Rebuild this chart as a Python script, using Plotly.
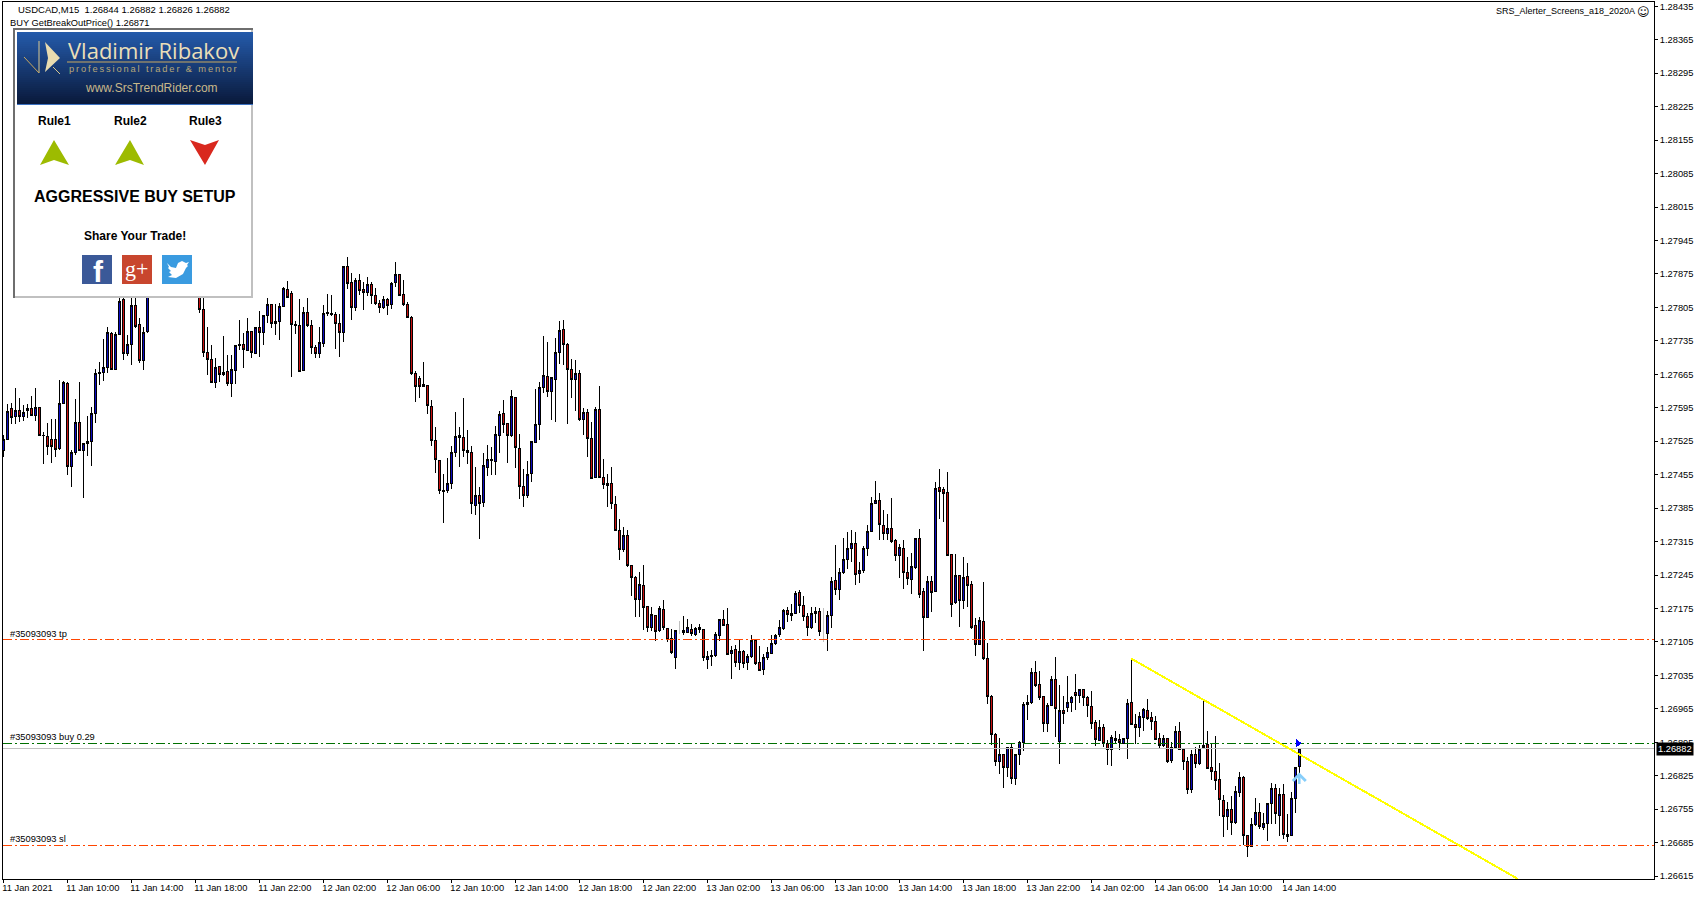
import plotly.graph_objects as go

# M15 USDCAD bars, prices in points (1e-5). None = bar hidden behind the panel
opens = [
    127505,127529,127594,127577,127590,127577,127590,127594,127579,127596,
    127537,127535,127529,127529,127510,127604,127646,127472,127502,127565,
    127505,127520,127525,127583,127666,127669,127680,127751,127676,127748,
    127821,127708,127727,127809,127770,127694,127754,None,None,None,
    None,None,None,None,None,None,None,None,None,127848,
    127801,127711,127696,127648,127682,127669,127671,127646,127673,127725,
    127728,127715,127755,127709,127763,127753,127788,127812,127771,127775,
    127807,127843,127835,127770,127768,127673,127795,127768,127722,127708,
    127729,127792,127791,127791,127772,127752,127891,127858,127805,127862,
    127843,127836,127853,127830,127814,127805,127822,127811,127857,127874,
    127832,127812,127784,127667,127657,127640,127641,127598,127526,127485,
    127422,127421,127436,127501,127537,127533,127506,127501,127390,127411,
    127396,127471,127484,127482,127536,127583,127562,127536,127616,127510,
    127430,127411,127457,127523,127559,127637,127660,127628,127655,127710,
    127759,127727,127675,127655,127667,127570,127585,127531,127450,127591,
    127449,127432,127436,127393,127338,127298,127328,127265,127240,127193,
    127223,127179,127136,127160,127128,127173,127133,127112,127072,None,
    127124,127124,127131,127121,127132,127131,127068,127074,127076,127119,
    127152,127142,127080,127089,127063,127085,127061,127075,127108,127062,
    127047,127072,127081,127101,127120,127134,127171,127160,127165,127208,
    127181,127158,127136,127164,127169,None,127123,127160,127233,127214,
    127251,127278,127301,127312,127248,127255,127301,127337,127395,127400,
    127349,127331,127343,127318,127285,127301,127251,127236,127261,127322,
    127211,127156,127232,127211,127429,127423,127418,127289,127188,127243,
    127192,127241,127226,127140,127100,127147,127071,126990,126912,126855,
    126870,126842,126885,126819,126870,126895,126974,126978,127041,127015,
    126990,126935,126972,127027,126897,126961,126967,126978,126999,126993,
    127006,126988,126970,126937,126899,126927,126893,126880,126904,126900,
    126893,126902,126979,126933,126926,126947,126962,126946,126939,126902,
    126889,126904,126857,126885,126918,126879,126854,126796,126870,126851,
    126884,126891,126843,126833,126818,126774,126740,126755,126727,126791,
    126822,126700,126678,126722,126748,126717,126725,126767,126799,126742,
    126786,126702,126700,126778,126844,
]
highs = [
    127538,127603,127606,127636,127615,127601,127603,127620,127636,127596,
    127545,127563,127571,127571,127653,127651,127649,127507,127613,127648,
    127521,127577,127596,127676,127690,127739,127763,127754,127753,127848,
    127831,127747,127831,127831,127782,127763,127862,None,None,None,
    None,None,None,None,None,None,None,None,None,127862,
    127835,127763,127726,127699,127683,127745,127706,127706,127726,127779,
    127752,127782,127756,127765,127798,127789,127824,127812,127812,127815,
    127847,127860,127839,127777,127822,127805,127824,127779,127726,127763,
    127810,127833,127831,127796,127791,127892,127910,127876,127866,127875,
    127859,127868,127859,127845,127821,127828,127824,127858,127899,127874,
    127862,127817,127786,127671,127662,127690,127642,127611,127554,127485,
    127456,127489,127515,127586,127554,127616,127548,127515,127471,127430,
    127501,127517,127513,127556,127588,127611,127562,127632,127616,127541,
    127466,127483,127524,127635,127648,127745,127732,127658,127741,127776,
    127778,127731,127698,127694,127674,127595,127593,127565,127596,127640,
    127487,127456,127471,127411,127362,127345,127339,127265,127244,127251,
    127265,127180,127178,127160,127180,127192,127135,127133,127131,None,
    127160,127152,127142,127137,127142,127131,127086,127088,127126,127152,
    127172,127177,127096,127098,127109,127088,127079,127119,127109,127096,
    127079,127095,127119,127121,127151,127173,127178,127184,127211,127213,
    127201,127165,127178,127178,127177,None,127169,127240,127307,127260,
    127323,127335,127340,127335,127273,127305,127350,127409,127442,127417,
    127381,127373,127407,127320,127310,127319,127282,127292,127322,127342,
    127218,127243,127243,127439,127467,127429,127461,127289,127289,127243,
    127283,127271,127233,127155,127157,127231,127103,126994,126914,126904,
    126870,126885,126893,126871,126897,126980,126994,127050,127066,127045,
    126992,126977,127034,127073,127015,126991,127034,126992,127038,127006,
    127006,126991,127002,126942,126942,126933,126900,126910,126919,126912,
    126905,126985,127070,126954,126958,126966,126986,126958,126951,126914,
    126911,126904,126895,126930,126938,126882,126864,126879,126886,126890,
    126983,126919,126893,126909,126852,126785,126771,126782,126803,126833,
    126825,126700,126737,126778,126767,126748,126769,126809,126808,126799,
    126808,126745,126790,126844,126882,
]
lows = [
    127493,127529,127561,127561,127566,127568,127573,127577,127568,127536,
    127477,127496,127480,127491,127507,127603,127454,127430,127496,127505,
    127407,127494,127473,127564,127643,127652,127667,127673,127676,127747,
    127695,127703,127685,127761,127688,127674,127751,None,None,None,
    None,None,None,None,None,None,None,None,None,127794,
    127701,127664,127648,127637,127648,127662,127641,127618,127645,127715,
    127679,127713,127699,127708,127702,127726,127773,127761,127747,127737,
    127805,127824,127660,127749,127670,127672,127763,127708,127699,127699,
    127722,127786,127787,127719,127702,127733,127843,127779,127798,127831,
    127800,127828,127812,127810,127794,127801,127789,127802,127847,127828,
    127808,127783,127664,127608,127615,127639,127582,127515,127459,127414,
    127354,127417,127426,127492,127471,127492,127478,127372,127370,127321,
    127388,127452,127454,127455,127501,127542,127480,127534,127469,127404,
    127388,127407,127440,127522,127527,127625,127618,127569,127565,127686,
    127684,127561,127616,127588,127568,127538,127492,127446,127449,127448,
    127425,127388,127383,127337,127276,127293,127262,127201,127158,127158,
    127130,127126,127128,127107,127125,127130,127105,127079,127049,None,
    127119,127124,127118,127117,127123,127066,127049,127054,127074,127107,
    127138,127077,127028,127053,127047,127050,127047,127072,127056,127045,
    127036,127067,127079,127099,127116,127130,127147,127149,127163,127166,
    127149,127117,127133,127144,127118,None,127086,127135,127204,127192,
    127248,127257,127273,127225,127229,127250,127285,127335,127395,127319,
    127319,127319,127313,127275,127239,127216,127225,127206,127258,127198,
    127087,127155,127167,127211,127363,127357,127284,127158,127184,127137,
    127174,127179,127133,127075,127100,127068,126976,126890,126846,126829,
    126799,126822,126808,126805,126848,126876,126942,126976,127010,126983,
    126916,126916,126971,126907,126849,126934,126958,126958,126963,126977,
    126971,126949,126923,126888,126898,126885,126848,126845,126891,126878,
    126892,126861,126931,126892,126907,126918,126942,126921,126899,126883,
    126886,126852,126852,126881,126879,126838,126787,126789,126841,126847,
    126883,126839,126817,126796,126740,126696,126712,126702,126725,126781,
    126680,126654,126677,126720,126713,126712,126689,126724,126725,126698,
    126693,126687,126699,126748,126826,
]
closes = [
    127529,127588,127574,127590,127577,127586,127594,127579,127596,127537,
    127536,127514,127514,127507,127604,127648,127472,127502,127565,127506,
    127521,127525,127583,127667,127669,127680,127753,127676,127749,127818,
    127708,127728,127810,127765,127694,127753,127848,None,None,None,
    None,None,None,None,None,None,None,None,None,127801,
    127710,127696,127648,127680,127665,127664,127646,127676,127726,127728,
    127716,127755,127710,127763,127753,127788,127812,127771,127776,127807,
    127845,127826,127769,127767,127671,127795,127767,127721,127708,127732,
    127793,127795,127793,127771,127752,127891,127855,127805,127862,127841,
    127836,127853,127830,127814,127805,127822,127808,127855,127874,127830,
    127812,127784,127666,127639,127639,127644,127599,127526,127486,127421,
    127419,127436,127501,127535,127532,127505,127501,127394,127411,127394,
    127474,127487,127487,127539,127581,127561,127538,127618,127511,127430,
    127411,127455,127524,127560,127637,127662,127628,127658,127711,127757,
    127727,127675,127655,127667,127570,127585,127530,127448,127591,127449,
    127434,127436,127394,127339,127298,127328,127264,127239,127193,127225,
    127178,127135,127162,127127,127175,127135,127111,127082,127129,None,
    127129,127135,127122,127133,127135,127072,127075,127077,127121,127152,
    127140,127079,127088,127063,127085,127060,127075,127109,127059,127046,
    127072,127083,127102,127119,127135,127170,127162,127165,127206,127181,
    127158,127135,127165,127169,127127,None,127160,127231,127214,127251,
    127278,127301,127312,127246,127255,127301,127337,127395,127400,127351,
    127332,127343,127315,127286,127303,127251,127238,127262,127322,127205,
    127156,127232,127209,127427,127420,127416,127285,127184,127245,127192,
    127239,127223,127135,127100,127149,127070,126990,126912,126855,126870,
    126842,126885,126819,126870,126895,126975,126979,127041,127013,126989,
    126935,126973,127027,126966,126962,126955,126979,126988,126993,127006,
    126988,126972,126935,126900,126925,126893,126880,126906,126899,126895,
    126902,126977,126932,126926,126948,126964,126945,126939,126901,126889,
    126904,126855,126885,126918,126880,126854,126796,126870,126851,126879,
    126889,126840,126833,126816,126776,126740,126755,126728,126793,126822,
    126700,126677,126723,126748,126719,126725,126768,126799,126746,126786,
    126702,126698,126778,126843,126882,
]

# flat bars that the terminal paints silver
doji_bars = [169, 205]
doji_open = [127128, 127126]
doji_high = [127148, 127176]
doji_low = [127121, 127105]
doji_close = [127128, 127126]

tick_bars = list(range(0, 321, 16))
tick_labels = ["11 Jan 2021", "11 Jan 10:00", "11 Jan 14:00", "11 Jan 18:00", "11 Jan 22:00",
               "12 Jan 02:00", "12 Jan 06:00", "12 Jan 10:00", "12 Jan 14:00", "12 Jan 18:00", "12 Jan 22:00",
               "13 Jan 02:00", "13 Jan 06:00", "13 Jan 10:00", "13 Jan 14:00", "13 Jan 18:00", "13 Jan 22:00",
               "14 Jan 02:00", "14 Jan 06:00", "14 Jan 10:00", "14 Jan 14:00"]
price_ticks = [128435 - 70 * k for k in range(27)]

tp_level = 127111
sl_level = 126680
buy_level = 126893
bid_level = 126882
trend_bars = [282, 378.7]
trend_prices = [127070, 126609]

PLOT_L, PLOT_R, PLOT_T, PLOT_B = 3, 1654, 2, 879
FONT = "Liberation Sans"


def p(v):
    return None if v is None else v / 100000


def px(x):
    return (x - PLOT_L) / (PLOT_R - PLOT_L)


def py(y):
    return (PLOT_B - y) / (PLOT_B - PLOT_T)


def rect(x0, y0, x1, y1, color):
    return dict(type="rect", xref="paper", yref="paper", x0=px(x0), x1=px(x1), y0=py(y1), y1=py(y0),
                fillcolor=color, line_width=0, layer="above")


def poly(points, color):
    path = "M" + "L".join(f"{px(a):.5f},{py(b):.5f}" for a, b in points) + "Z"
    return dict(type="path", xref="paper", yref="paper", path=path, fillcolor=color, line_width=0, layer="above")


def seg(x0, y0, x1, y1, color, width=1):
    return dict(type="line", xref="paper", yref="paper", x0=px(x0), x1=px(x1), y0=py(y0), y1=py(y1),
                line=dict(color=color, width=width), layer="above")


def label(x, y, text, size=9.3, color="black", anchor="left", bold=False, family=FONT):
    if bold:
        text = f"<b>{text}</b>"
    return dict(xref="paper", yref="paper", x=px(x), y=py(y), text=text, showarrow=False, xanchor=anchor,
                yanchor="middle", font=dict(family=family, size=size, color=color), borderpad=0, borderwidth=0)


fig = go.Figure()

full_span = [-0.075, 412.675]
dash = "9px,3px,2px,3px"
for level, color, style in [(tp_level, "#ff4500", dash), (sl_level, "#ff4500", dash),
                            (buy_level, "#007000", dash), (bid_level, "#c0c0c0", "solid")]:
    fig.add_trace(go.Scatter(x=full_span, y=[p(level)] * 2, mode="lines", showlegend=False, hoverinfo="skip",
                             line=dict(color=color, width=1, dash=style)))

fig.add_trace(go.Candlestick(
    x=list(range(len(opens))),
    open=[p(v) for v in opens], high=[p(v) for v in highs],
    low=[p(v) for v in lows], close=[p(v) for v in closes],
    whiskerwidth=0, showlegend=False,
    increasing=dict(fillcolor="#0c0cc0", line=dict(color="black", width=1)),
    decreasing=dict(fillcolor="#c81010", line=dict(color="black", width=1)),
))
fig.add_trace(go.Candlestick(
    x=doji_bars,
    open=[p(v) for v in doji_open], high=[p(v) for v in doji_high],
    low=[p(v) for v in doji_low], close=[p(v) for v in doji_close],
    whiskerwidth=0, showlegend=False,
    increasing=dict(fillcolor="#c0c0c0", line=dict(color="#c0c0c0", width=1)),
    decreasing=dict(fillcolor="#c0c0c0", line=dict(color="#c0c0c0", width=1)),
))

fig.add_trace(go.Scatter(x=trend_bars, y=[p(v) for v in trend_prices], mode="lines", showlegend=False,
                         hoverinfo="skip", line=dict(color="#ffff00", width=2)))
fig.add_trace(go.Scatter(x=[323.6], y=[p(buy_level)], mode="markers", showlegend=False, hoverinfo="skip",
                         marker=dict(symbol="triangle-right", size=8, color="#0000ff")))

shapes = []
# info panel
shapes.append(rect(13, 28, 253, 298, "#c0c0c0"))
shapes.append(rect(13, 28, 253, 30, "#6e6e6e"))
shapes.append(rect(13, 28, 15, 298, "#6e6e6e"))
shapes.append(rect(15, 30, 251, 296, "white"))
# banner gradient
top_c, bot_c = (36, 90, 170), (10, 26, 60)
strips = 36
for k in range(strips):
    t = k / (strips - 1)
    c = [round(a + (b - a) * t) for a, b in zip(top_c, bot_c)]
    y0 = 32 + 72 * k / strips
    shapes.append(rect(17, y0, 253, y0 + 72 / strips + 0.5, f"rgb({c[0]},{c[1]},{c[2]})"))
shapes.append(rect(17, 104, 253, 105, "#3a70c0"))
shapes.append(seg(67, 62, 237, 62, "#c8a860"))
# logo
shapes.append(poly([(45, 42), (60, 58), (45, 72), (48, 58)], "#e8dcb0"))
shapes.append(seg(39, 41, 39, 73, "#d8c890"))
shapes.append(seg(24, 57, 39, 73, "#c8a860"))
shapes.append(seg(53, 67, 60, 74, "#d8c890"))
# rule arrows
shapes.append(poly([(40, 165), (54, 140), (69, 165), (54, 160)], "#9dbb00"))
shapes.append(poly([(115, 165), (130, 140), (144, 165), (130, 160)], "#9dbb00"))
shapes.append(poly([(190, 140), (205, 145), (219, 140), (205, 165)], "#d9281e"))
# share buttons
shapes.append(rect(82, 255, 112, 284, "#3b5998"))
shapes.append(rect(122, 255, 152, 284, "#c8462e"))
shapes.append(rect(162, 255, 192, 284, "#3a9be0"))
shapes.append(poly([(167, 263), (171, 267), (176, 268), (178, 263), (182, 261), (186, 263), (189, 262), (187, 265),
                    (188, 266), (186, 268), (183, 274), (176, 278), (168, 277), (172, 275), (169, 272),
                    (171, 271), (168, 268), (169, 267)], "white"))

notes = [
    label(18, 10, "USDCAD,M15  1.26844 1.26882 1.26826 1.26882", size=9.5),
    label(10, 23, "BUY GetBreakOutPrice() 1.26871"),
    label(1635, 11, "SRS_Alerter_Screens_a18_2020A", size=9, anchor="right"),
    label(1643, 12, "\u263a", size=12, anchor="center", family="DejaVu Sans"),
    label(10, 634, "#35093093 tp"),
    label(10, 737, "#35093093 buy 0.29"),
    label(10, 839, "#35093093 sl"),
    label(153, 50, "Vladimir Ribakov", size=22, color="#eadfb8", anchor="center", family="Open Sans"),
    label(153, 69.5, "\u2009".join("professional trader & mentor"), size=9.3, color="#b8a878", anchor="center"),
    label(151, 88, "www.SrsTrendRider.com", size=12, color="#c8b88a", anchor="center"),
    label(54, 121, "Rule1", size=12, anchor="center", bold=True),
    label(130, 121, "Rule2", size=12, anchor="center", bold=True),
    label(205, 121, "Rule3", size=12, anchor="center", bold=True),
    label(135, 196, "AGGRESSIVE BUY SETUP", size=16, anchor="center", bold=True),
    label(135, 236, "Share Your Trade!", size=12, anchor="center", bold=True),
    label(98, 271, "f", size=30, color="white", anchor="center", bold=True),
    label(136, 268, "g+", size=22, color="white", anchor="center", family="Liberation Serif"),
    # current price tag
    dict(xref="paper", yref="y", x=1.0015, y=p(bid_level), text="1.26882", showarrow=False, xanchor="left",
         yanchor="middle", bgcolor="black", font=dict(family=FONT, size=9.3, color="white"), borderpad=1),
    dict(xref="x", yref="y", x=324, y=1.26832, ax=0, ay=13, text="", showarrow=True, arrowhead=4, arrowsize=1,
         arrowwidth=2.5, arrowcolor="#87cefa"),
]

fig.update_layout(
    width=1700, height=900,
    margin=dict(l=PLOT_L, r=1700 - PLOT_R, t=PLOT_T, b=900 - PLOT_B, autoexpand=False),
    paper_bgcolor="white", plot_bgcolor="white",
    boxmode="overlay", boxgap=0.5, showlegend=False,
    shapes=shapes, annotations=notes,
    font=dict(family=FONT, size=9.3, color="black"),
    xaxis=dict(range=full_span, tickmode="array", tickvals=tick_bars, ticktext=tick_labels,
               ticks="outside", ticklen=3, tickcolor="black", showgrid=False, zeroline=False,
               showline=True, linecolor="black", linewidth=1, mirror=True,
               rangeslider=dict(visible=False), ticklabelposition="outside right", ticklabelshift=-2,
               tickfont=dict(family=FONT, size=9.3)),
    yaxis=dict(range=[1.26609, 1.28444], side="right", tickmode="array", tickvals=[p(v) for v in price_ticks],
               ticktext=[f"{v / 100000:.5f}" for v in price_ticks], ticks="outside", ticklen=3, tickcolor="black",
               showgrid=False, zeroline=False, showline=True, linecolor="black", linewidth=1, mirror=True,
               tickfont=dict(family=FONT, size=9.3)),
)

# the terminal draws without anti-aliasing
crisp = """document.body.style.margin='0';
document.querySelectorAll('.scatterlayer path, .boxlayer path').forEach(function(e){e.style.shapeRendering='crispEdges';});"""
fig.write_html("out.html", config=dict(displayModeBar=False), post_script=crisp)
